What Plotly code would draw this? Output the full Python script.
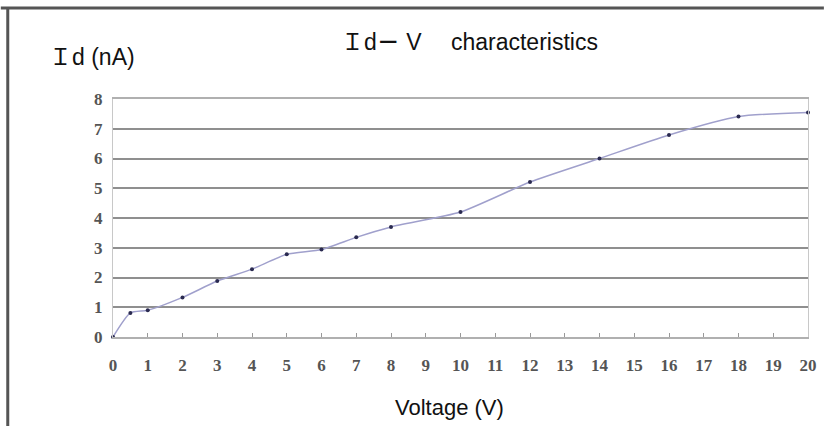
import plotly.graph_objects as go

voltage = [0, 0.5, 1, 2, 3, 4, 5, 6, 7, 8, 10, 12, 14, 16, 18, 20]
current_nA = [0, 0.81, 0.9, 1.33, 1.88, 2.28, 2.78, 2.94, 3.35, 3.7, 4.2, 5.21, 6.0, 6.79, 7.41, 7.55]
x_ticks = list(range(0, 21))
y_ticks = list(range(0, 9))

W, H = 829, 426
L, R, T, B = 113, 16, 99, 89
pw, ph = W - L - R, H - T - B

def px(x):
    return (x - L) / pw

def py(y):
    return (H - B - y) / ph

fig = go.Figure()
fig.add_trace(go.Scatter(
    x=voltage, y=current_nA, mode="lines+markers",
    line=dict(color="#a0a0cc", width=1.5, shape="spline", smoothing=0.6),
    marker=dict(color="#2a2a50", size=4),
    cliponaxis=False, showlegend=False, hoverinfo="skip",
))

tickfont = dict(family="Liberation Serif", size=17, color="#555555", weight="bold")

fig.update_layout(
    width=W, height=H,
    margin=dict(l=L, r=R, t=T, b=B),
    paper_bgcolor="white", plot_bgcolor="white",
    xaxis=dict(range=[0, 20], tickvals=x_ticks, ticktext=[str(v) for v in x_ticks],
               showgrid=False, zeroline=False, showline=True, linecolor="#b0b0b0",
               linewidth=1.5, mirror=True, ticks="inside", ticklen=4, tickcolor="#999999",
               tickfont=tickfont, ticklabelstandoff=12, fixedrange=True),
    yaxis=dict(range=[0, 8], tickvals=y_ticks, ticktext=[str(v) for v in y_ticks],
               showgrid=True, gridcolor="#8f8f8f", gridwidth=1.5, zeroline=False,
               showline=True, linecolor="#c8c8c8", linewidth=1, mirror=True,
               ticks="", tickfont=tickfont, ticklabelstandoff=6, fixedrange=True),
    shapes=[
        dict(type="line", xref="paper", yref="paper", x0=px(0), x1=px(W), y0=py(8), y1=py(8),
             line=dict(color="#555555", width=3)),
        dict(type="line", xref="paper", yref="paper", x0=px(7), x1=px(7), y0=py(8), y1=py(H),
             line=dict(color="#555555", width=3)),
    ],
    annotations=[
        dict(text="Ｉd<b>－</b> V　 characteristics", xref="paper", yref="paper",
             x=px(472), y=py(42), xanchor="center", yanchor="middle", showarrow=False,
             font=dict(family="Liberation Sans, Noto Sans CJK SC", size=23, color="#111111")),
        dict(text="Ｉd (nA)", xref="paper", yref="paper",
             x=px(47), y=py(57), xanchor="left", yanchor="middle", showarrow=False,
             font=dict(family="Liberation Sans, Noto Sans CJK SC", size=23, color="#111111")),
        dict(text="Voltage (V)", xref="paper", yref="paper",
             x=px(452), y=py(407), xanchor="center", yanchor="middle", showarrow=False,
             font=dict(family="Liberation Sans", size=22, color="#111111")),
    ],
)

fig.write_html("out.html", config={"displayModeBar": False},
               post_script="document.body.style.margin='0';")
